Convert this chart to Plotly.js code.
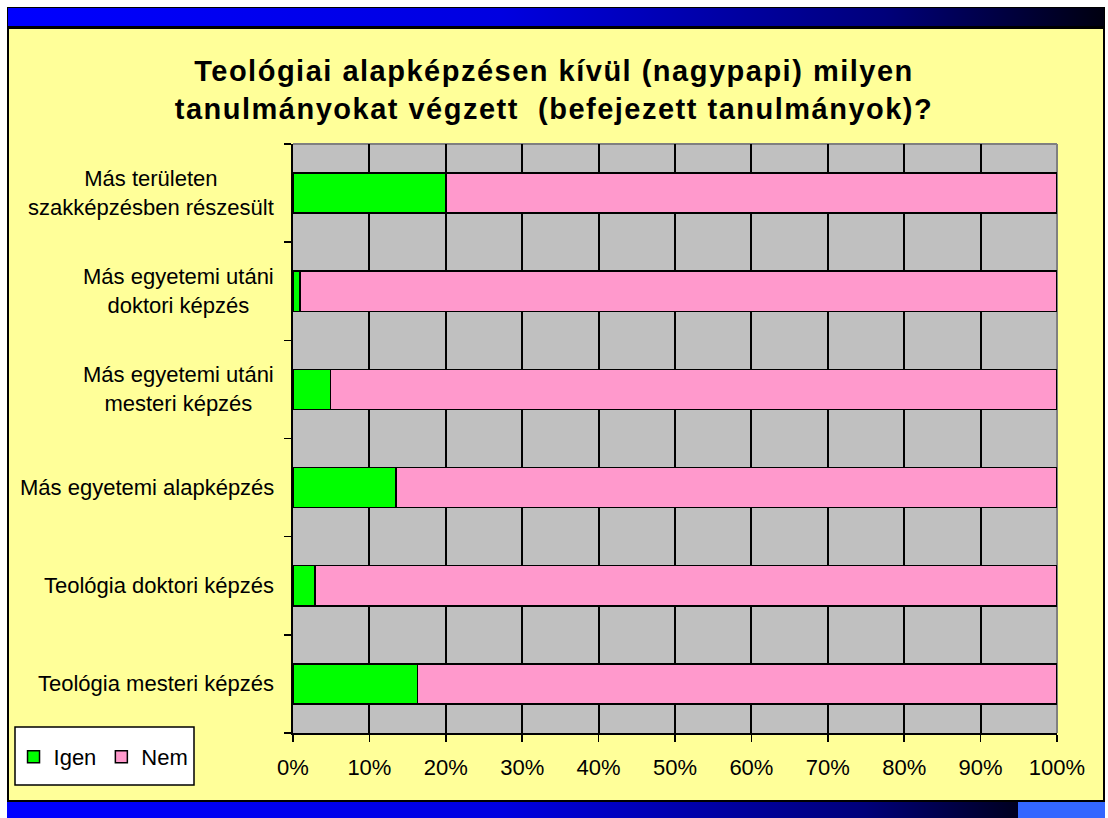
<!DOCTYPE html>
<html>
<head>
<meta charset="utf-8">
<script src="https://cdn.plot.ly/plotly-3.0.1.min.js"></script>
<style>
  html, body { margin: 0; padding: 0; background: #ffffff; }
  #wrap { position: relative; width: 1108px; height: 818px; overflow: hidden; }
  #topband { position: absolute; left: 7px; top: 7px; width: 1098px; height: 20px;
    background: linear-gradient(to right, #0000ff 0%, #0000e0 45%, #00007a 80%, #000010 100%);
    border: 1px solid #000; box-sizing: border-box; }
  #slide { position: absolute; left: 7px; top: 27px; width: 1098px; height: 775px;
    background: #ffff99; border: 2px solid #000; box-sizing: border-box; }
  #botband { position: absolute; left: 7px; top: 802px; width: 1098px; height: 16px;
    background: linear-gradient(to right, #0000ff 0%, #0000e0 45%, #00007a 78%, #000020 92%); }
  #botsq { position: absolute; left: 1018px; top: 802px; width: 87px; height: 16px; background: #3366ff; }
  #chart { position: absolute; left: 0; top: 0; width: 1108px; height: 818px; }
  .gtitle { letter-spacing: 1.5px; }
</style>
</head>
<body>
<div id="wrap">
  <div id="topband"></div>
  <div id="slide"></div>
  <div id="botband"></div>
  <div id="botsq"></div>
  <div id="chart"></div>
</div>
<script>
// Categories, bottom to top (as drawn on the category axis)
const categories = [
  "Teológia mesteri képzés",
  "Teológia doktori képzés",
  "Más egyetemi alapképzés",
  "Más egyetemi utáni<br>mesteri képzés",
  "Más egyetemi utáni<br>doktori képzés",
  "Más területen<br>szakképzésben részesült"
];
const seriesNames = ["Igen", "Nem"];
const igenValues = [16.3, 2.9, 13.5, 4.9, 0.9, 20.0];
const nemValues  = [83.7, 97.1, 86.5, 95.1, 99.1, 80.0];
const xTickValues = [0, 10, 20, 30, 40, 50, 60, 70, 80, 90, 100];
const xTickLabels = ["0%", "10%", "20%", "30%", "40%", "50%", "60%", "70%", "80%", "90%", "100%"];
const titleText = "Teológiai alapképzésen kívül (nagypapi) milyen<br>tanulmányokat végzett  (befejezett tanulmányok)?";

const FONT = "Arial, 'Liberation Sans', sans-serif";

const traces = [
  { type: "bar", orientation: "h", name: seriesNames[0], y: categories, x: igenValues,
    marker: { color: "#00ff00", line: { color: "#000000", width: 1.5 } }, hoverinfo: "x+y" },
  { type: "bar", orientation: "h", name: seriesNames[1], y: categories, x: nemValues,
    marker: { color: "#ff99cc", line: { color: "#000000", width: 1.5 } }, hoverinfo: "x+y" }
];

const annotations = categories.map(c => ({
  xref: "paper", yref: "y", x: -0.022, y: c, xanchor: "right", yanchor: "middle",
  text: c, align: "center", showarrow: false,
  font: { family: FONT, size: 22, color: "#000000" }
}));

const layout = {
  width: 1108, height: 818,
  paper_bgcolor: "rgba(0,0,0,0)",
  plot_bgcolor: "#c0c0c0",
  margin: { l: 293, r: 51, t: 144, b: 85 },
  barmode: "stack",
  bargap: 0.59,
  showlegend: true,
  title: {
    text: titleText,
    font: { family: FONT, size: 29, color: "#000000", weight: "bold" },
    xref: "container", yref: "container", x: 0.5, y: 0.9006, xanchor: "center", yanchor: "middle"
  },
  xaxis: {
    range: [0, 100], tickmode: "array", tickvals: xTickValues, ticktext: xTickLabels,
    showgrid: true, gridcolor: "#000000", gridwidth: 2,
    zeroline: false, showline: true, linecolor: "#000000", linewidth: 2,
    ticks: "outside", ticklen: 7, tickwidth: 1.5, tickcolor: "#000000",
    ticklabelstandoff: 7,
    tickfont: { family: FONT, size: 22, color: "#000000" },
    fixedrange: true
  },
  yaxis: {
    type: "category", categoryorder: "array", categoryarray: categories,
    tickson: "boundaries", ticks: "outside", ticklen: 7, tickwidth: 1.5, tickcolor: "#000000",
    showticklabels: false, showgrid: false, zeroline: false,
    showline: true, linecolor: "#000000", linewidth: 2,
    fixedrange: true
  },
  legend: {
    orientation: "h", xref: "paper", yref: "paper",
    x: -0.3658, y: -0.0051, xanchor: "left", yanchor: "top",
    bgcolor: "rgba(0,0,0,0)", borderwidth: 0,
    font: { family: FONT, size: 22, color: "#000000" },
    traceorder: "normal", itemwidth: 30
  },
  annotations: annotations,
  shapes: [
    { type: "line", xref: "paper", yref: "paper", x0: 0, x1: 1, y0: 1, y1: 1,
      line: { color: "#808080", width: 2 }, layer: "below" },
    { type: "line", xref: "paper", yref: "paper", x0: 1, x1: 1, y0: 0, y1: 1,
      line: { color: "#808080", width: 2 }, layer: "below" },
    // legend box (drawn behind the legend entries)
    { type: "rect", xref: "paper", yref: "paper",
      x0: (15 - 293) / 764, x1: (194 - 293) / 764, y0: (733 - 785) / 589, y1: (733 - 727) / 589,
      fillcolor: "#ffffff", line: { color: "#000000", width: 1.5 }, layer: "above" }
  ]
};

Plotly.newPlot("chart", traces, layout, { displayModeBar: false, staticPlot: true });
</script>
</body>
</html>
